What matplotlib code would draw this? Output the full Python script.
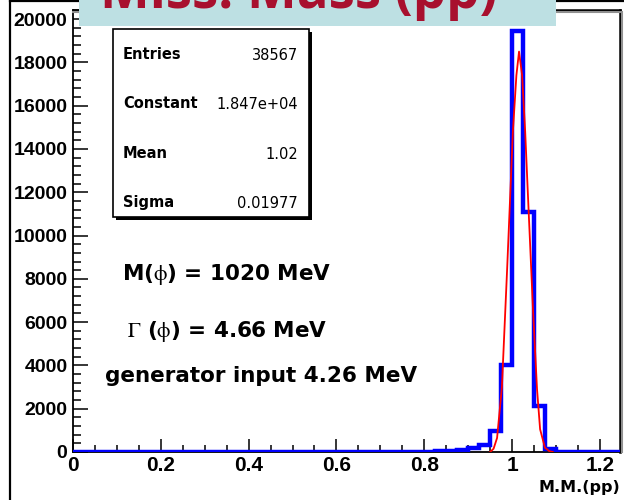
import matplotlib
matplotlib.use('Agg')
import matplotlib.pyplot as plt
from matplotlib.patches import Rectangle
from matplotlib.lines import Line2D
from matplotlib.ticker import MultipleLocator, FixedLocator, FixedFormatter
import numpy as np

plt.rcParams['mathtext.fontset'] = 'stix'

# ---------------- data ----------------
bin_width = 0.025
n_bins = 50
counts = [0, 0, 0, 0, 0, 0, 0, 0, 0, 0,
          0, 0, 0, 0, 0, 0, 0, 0, 0, 0,
          0, 0, 0, 0, 0, 0, 0, 0, 0, 10,
          10, 10, 20, 40, 45, 90, 170, 340, 980, 4030,
          19440, 11070, 2130, 120, 0, 0, 0, 0, 0, 0]
fit_x = [0.950, 0.958, 0.966, 0.977, 0.989, 1.002, 1.010, 1.016, 1.023,
         1.030, 1.036, 1.048, 1.057, 1.064, 1.075, 1.085, 1.093]
fit_y = [0, 150, 650, 3000, 8500, 14800, 17400, 18500, 17400,
         14800, 12000, 6500, 2900, 1050, 200, 40, 0]
x_ticks = [0, 0.2, 0.4, 0.6, 0.8, 1.0, 1.2]
x_tick_labels = ['0', '0.2', '0.4', '0.6', '0.8', '1', '1.2']
y_ticks = [0, 2000, 4000, 6000, 8000, 10000, 12000, 14000, 16000, 18000, 20000]
y_tick_labels = [str(v) for v in y_ticks]
stats_labels = ['Entries', 'Constant', 'Mean', 'Sigma']
stats_values = ['38567', '1.847e+04', '1.02', '0.01977']
title = 'Miss. Mass (pp)'
x_label = 'M.M.(pp)'
notes = [r'M($\mathrm{\phi}$) = 1020 MeV', r'$\Gamma$ ($\mathrm{\phi}$) = 4.66 MeV',
         'generator input 4.26 MeV']

# ---------------- layout helpers ----------------
W, H = 624, 500
fig = plt.figure(figsize=(W / 100, H / 100), dpi=100)
fig.patch.set_facecolor('white')


def fx(x):
    return x / W


def fy(y):
    return 1 - y / H


ax = fig.add_axes([fx(73), fy(452), fx(620) - fx(73), fy(10) - fy(452)])
edges = np.arange(n_bins + 1) * bin_width
ax.stairs(counts, edges, baseline=None, color='#0000ff', lw=3.2, zorder=3)
ax.plot(fit_x, fit_y, color='#ff0000', lw=1.3, zorder=4)

ax.set_xlim(0, 1.246)
ax.set_ylim(0, 20420)

for s in ['left', 'bottom']:
    ax.spines[s].set_linewidth(1.3)
for s in ['top', 'right']:
    ax.spines[s].set_linewidth(1.8)

ax.xaxis.set_major_locator(FixedLocator(x_ticks))
ax.xaxis.set_major_formatter(FixedFormatter(x_tick_labels))
ax.xaxis.set_minor_locator(MultipleLocator(0.05))
ax.yaxis.set_major_locator(FixedLocator(y_ticks))
ax.yaxis.set_major_formatter(FixedFormatter(y_tick_labels))
ax.yaxis.set_minor_locator(MultipleLocator(400))

ax.tick_params(axis='x', which='major', direction='in', length=9.5, width=1.1,
               pad=3, top=False)
ax.tick_params(axis='x', which='minor', direction='in', length=4.8, width=1.1,
               top=False)
ax.tick_params(axis='y', which='major', direction='in', length=11, width=1.1,
               pad=4, right=False)
ax.tick_params(axis='y', which='minor', direction='in', length=5.5, width=1.1,
               right=False)
for lab in ax.get_xticklabels():
    lab.set_fontfamily('Liberation Sans')
    lab.set_fontweight('bold')
    lab.set_fontsize(15)
for lab in ax.get_yticklabels():
    lab.set_fontfamily('Liberation Sans')
    lab.set_fontweight('bold')
    lab.set_fontsize(14)

# frame shadow on the right and top
fig.add_artist(Line2D([fx(622), fx(622)], [fy(12), fy(452)], color='#909090',
                      lw=1.5, zorder=2))
fig.add_artist(Line2D([fx(73), fx(621)], [fy(12), fy(12)], color='#909090',
                      lw=1.5, zorder=2))

# outer canvas border
fig.add_artist(Line2D([fx(10), fx(10)], [0, 1], color='black', lw=1.6, zorder=2))
fig.add_artist(Line2D([fx(10), 1], [fy(1), fy(1)], color='black', lw=1.6, zorder=2))

# x label
fig.text(fx(620), fy(492), x_label, ha='right', va='baseline',
         fontsize=11.5, fontweight='bold', family='DejaVu Sans')

# stats box
fig.add_artist(Rectangle((fx(116), fy(220)), fx(312) - fx(116), fy(32) - fy(220),
                         transform=fig.transFigure, facecolor='black',
                         edgecolor='none', zorder=5))
fig.add_artist(Rectangle((fx(113), fy(217)), fx(309) - fx(113), fy(29) - fy(217),
                         transform=fig.transFigure, facecolor='white',
                         edgecolor='black', lw=1.2, zorder=6))
stat_base = [59, 108, 158, 207]
for lab, val, yb in zip(stats_labels, stats_values, stat_base):
    fig.text(fx(123), fy(yb), lab, ha='left', va='baseline', fontsize=10.5,
             fontweight='bold', family='DejaVu Sans', zorder=7)
    fig.text(fx(298), fy(yb + 1), val, ha='right', va='baseline', fontsize=10.5,
             family='DejaVu Sans', zorder=7)

# annotations
note_pos = [(122, 280), (127, 337), (105, 382)]
for txt, (px, py) in zip(notes, note_pos):
    fig.text(fx(px), fy(py), txt, ha='left', va='baseline', fontsize=15.5,
             fontweight='bold', family='DejaVu Sans', zorder=7)

# title banner
fig.add_artist(Rectangle((fx(79), fy(26)), fx(556) - fx(79), fy(0) - fy(26) + 0.01,
                         transform=fig.transFigure, facecolor='#bde0e3',
                         edgecolor='none', zorder=8))
fig.text(fx(100), fy(8), title, ha='left', va='baseline', fontsize=38,
         fontweight='bold', family='Open Sans', color='#a8102e', zorder=9)

fig.savefig('out.png', dpi=100)
